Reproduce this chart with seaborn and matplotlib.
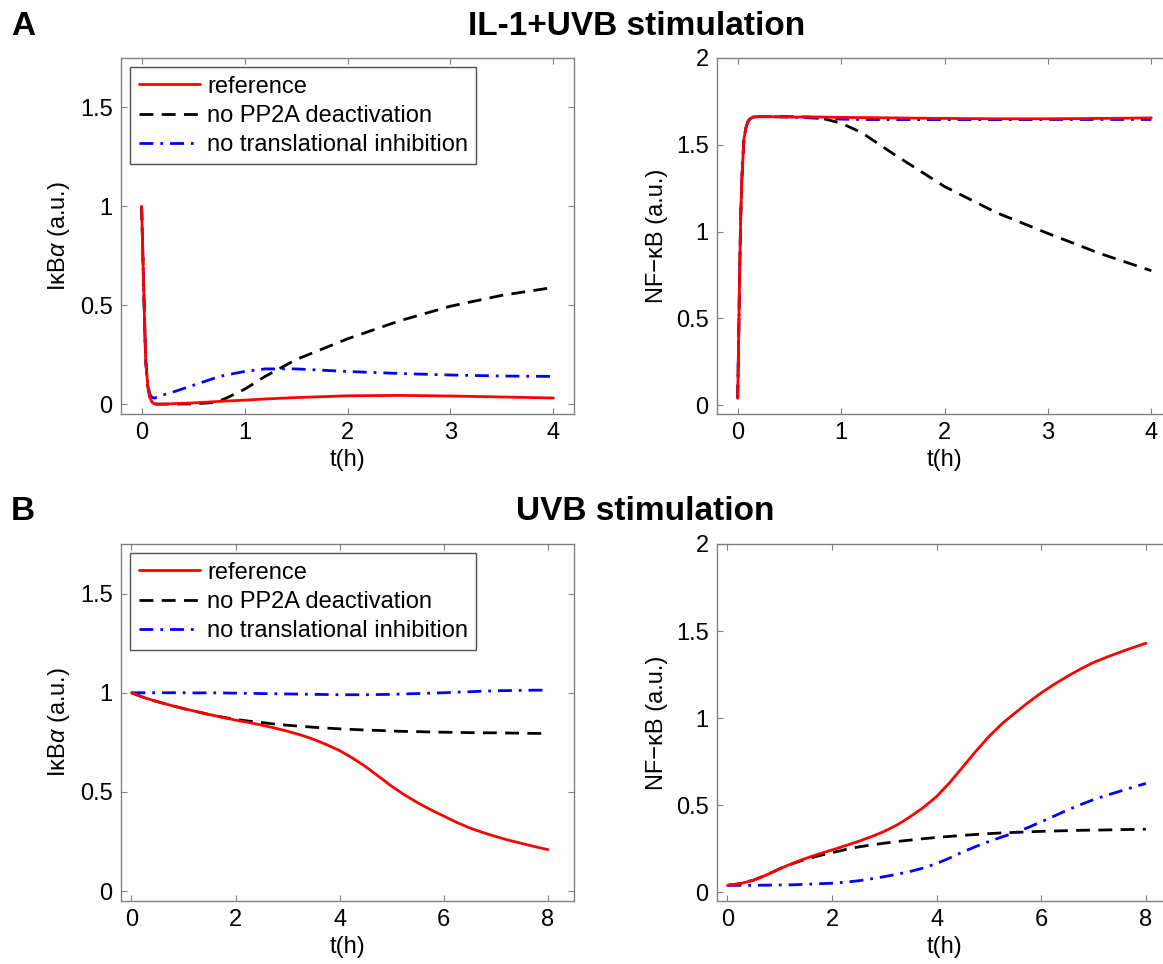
import matplotlib
matplotlib.use("Agg")
import matplotlib.pyplot as plt
import seaborn as sns

sns.set_style("white")
plt.rcParams['font.family'] = ['Liberation Sans', 'DejaVu Sans']
plt.rcParams['mathtext.fontset'] = 'custom'
plt.rcParams['mathtext.it'] = 'Liberation Sans:italic'
plt.rcParams['mathtext.rm'] = 'Liberation Sans'
plt.rcParams['text.color'] = 'black'
plt.rcParams['axes.labelcolor'] = 'black'

# ---- data ----
# panel A: IL-1+UVB stimulation, t in hours
t_a = [0, 0.01, 0.02, 0.03, 0.04, 0.06, 0.08, 0.1, 0.12, 0.15, 0.2, 0.3, 0.5,
       0.7, 0.8, 1.0, 1.2, 1.5, 2.0, 2.5, 3.0, 3.5, 4.0]
ikb_a_ref = [1, 0.8, 0.6, 0.4, 0.22, 0.09, 0.035, 0.01, 0.002, 0.0, 0.0, 0.002, 0.006,
             0.012, 0.015, 0.02, 0.026, 0.033, 0.042, 0.044, 0.041, 0.036, 0.031]
ikb_a_pp2a = [1, 0.8, 0.6, 0.4, 0.22, 0.09, 0.035, 0.01, 0.002, 0.0, 0.0, 0.0, 0.001,
              0.008, 0.025, 0.075, 0.14, 0.225, 0.33, 0.42, 0.495, 0.55, 0.59]
ikb_a_transl = [1, 0.8, 0.6, 0.4, 0.22, 0.1, 0.05, 0.035, 0.03, 0.035, 0.045, 0.06, 0.095,
                0.13, 0.145, 0.165, 0.178, 0.178, 0.165, 0.155, 0.147, 0.142, 0.14]
nfkb_a_ref = [0.04, 0.4, 0.8, 1.1, 1.3, 1.53, 1.6, 1.635, 1.65, 1.66, 1.662, 1.662, 1.66,
              1.66, 1.66, 1.658, 1.657, 1.655, 1.652, 1.65, 1.65, 1.652, 1.655]
nfkb_a_pp2a = [0.04, 0.4, 0.8, 1.1, 1.3, 1.53, 1.6, 1.635, 1.65, 1.66, 1.662, 1.662, 1.662,
               1.66, 1.655, 1.625, 1.57, 1.45, 1.26, 1.11, 0.99, 0.875, 0.775]
nfkb_a_transl = [0.04, 0.4, 0.8, 1.1, 1.3, 1.53, 1.6, 1.635, 1.65, 1.66, 1.662, 1.662, 1.66,
                 1.655, 1.652, 1.648, 1.646, 1.645, 1.645, 1.645, 1.646, 1.646, 1.646]

# panel B: UVB stimulation
t_b = [0, 0.25, 0.5, 0.75, 1, 1.25, 1.5, 1.75, 2, 2.25, 2.5, 2.75, 3, 3.25, 3.5, 3.75,
       4, 4.25, 4.5, 4.75, 5, 5.25, 5.5, 5.75, 6, 6.25, 6.5, 6.75, 7, 7.25, 7.5, 7.75, 8]
ikb_b_ref = [1.0, 0.975, 0.955, 0.937, 0.92, 0.905, 0.89, 0.876, 0.862, 0.85, 0.837,
             0.822, 0.806, 0.787, 0.765, 0.738, 0.708, 0.67, 0.627, 0.578, 0.528, 0.484,
             0.445, 0.41, 0.378, 0.346, 0.318, 0.295, 0.275, 0.256, 0.24, 0.224, 0.209]
ikb_b_pp2a = [1.0, 0.975, 0.955, 0.937, 0.92, 0.905, 0.89, 0.877, 0.866, 0.857, 0.85,
              0.842, 0.836, 0.831, 0.826, 0.822, 0.818, 0.815, 0.812, 0.81, 0.807, 0.805,
              0.804, 0.802, 0.801, 0.8, 0.799, 0.798, 0.798, 0.797, 0.796, 0.795, 0.795]
ikb_b_transl = [1.0, 1.0, 1.0, 1.0, 1.0, 0.999, 1.0, 0.999, 0.998, 0.997, 0.996, 0.995,
                0.994, 0.993, 0.992, 0.991, 0.99, 0.99, 0.99, 0.991, 0.992, 0.994, 0.996,
                0.998, 1.0, 1.003, 1.005, 1.008, 1.01, 1.011, 1.012, 1.013, 1.013]
nfkb_b_ref = [0.04, 0.05, 0.07, 0.1, 0.135, 0.167, 0.195, 0.22, 0.243, 0.267, 0.292,
              0.319, 0.35, 0.388, 0.435, 0.488, 0.55, 0.63, 0.72, 0.81, 0.895, 0.968,
              1.03, 1.09, 1.145, 1.195, 1.24, 1.282, 1.32, 1.35, 1.378, 1.405, 1.43]
nfkb_b_pp2a = [0.04, 0.05, 0.07, 0.1, 0.135, 0.165, 0.19, 0.21, 0.228, 0.245, 0.26,
               0.272, 0.282, 0.292, 0.3, 0.308, 0.315, 0.321, 0.327, 0.332, 0.337, 0.341,
               0.344, 0.347, 0.35, 0.352, 0.354, 0.356, 0.357, 0.358, 0.36, 0.361, 0.362]
nfkb_b_transl = [0.04, 0.04, 0.04, 0.041, 0.042, 0.043, 0.046, 0.049, 0.052, 0.058, 0.066,
                 0.077, 0.09, 0.104, 0.12, 0.14, 0.165, 0.197, 0.232, 0.263, 0.292, 0.318,
                 0.342, 0.372, 0.405, 0.438, 0.472, 0.503, 0.532, 0.557, 0.58, 0.603, 0.625]

series_names = ["reference", "no PP2A deactivation", "no translational inhibition"]
colors = ["#ff0000", "#000000", "#0000ff"]
styles = ["-", (0, (5, 3)), (0, (5, 2.5, 1, 2.5))]

ikb_label = "IκB" + r"$\it{\alpha}$" + " (a.u.)"
nfkb_label = "NF\u2212κB (a.u.)"

FS = 17
fig = plt.figure(figsize=(11.63, 9.64), dpi=100)
W, H = 1163, 964


def make_ax(left, top, right, bottom):
    return fig.add_axes([left / W, 1 - bottom / H, (right - left) / W, (bottom - top) / H])


panels = [
    (make_ax(121, 58, 574, 414), t_a, [ikb_a_ref, ikb_a_pp2a, ikb_a_transl],
     (-0.2, 4.2), [0, 1, 2, 3, 4], (-0.05, 1.75), [0, 0.5, 1, 1.5], ikb_label, True),
    (make_ax(717, 58, 1172, 414), t_a, [nfkb_a_ref, nfkb_a_pp2a, nfkb_a_transl],
     (-0.2, 4.2), [0, 1, 2, 3, 4], (-0.05, 2), [0, 0.5, 1, 1.5, 2], nfkb_label, False),
    (make_ax(121, 544, 574, 901), t_b, [ikb_b_ref, ikb_b_pp2a, ikb_b_transl],
     (-0.2, 8.5), [0, 2, 4, 6, 8], (-0.05, 1.75), [0, 0.5, 1, 1.5], ikb_label, True),
    (make_ax(717, 544, 1172, 901), t_b, [nfkb_b_ref, nfkb_b_pp2a, nfkb_b_transl],
     (-0.2, 8.5), [0, 2, 4, 6, 8], (-0.05, 2), [0, 0.5, 1, 1.5, 2], nfkb_label, False),
]

for ax, t, ys, xlim, xt, ylim, yt, ylab, show_leg in panels:
    # black first, then blue, red drawn on top
    for i in [1, 2, 0]:
        sns.lineplot(x=t, y=ys[i], ax=ax, color=colors[i], linestyle=styles[i],
                     linewidth=2.0, label=series_names[i], sort=False, estimator=None)
    ax.set_xlim(*xlim)
    ax.set_ylim(*ylim)
    ax.set_xticks(xt)
    ax.set_xticklabels([f"{v:g}" for v in xt])
    ax.set_yticks(yt)
    ax.set_yticklabels([f"{v:g}" for v in yt])
    ax.tick_params(direction="in", length=4, width=0.8, color="#808080",
                   labelcolor="black", labelsize=FS, pad=6, top=True, right=True,
                   bottom=True, left=True)
    for sp in ax.spines.values():
        sp.set_color("#808080")
        sp.set_linewidth(1.0)
    ax.set_xlabel("t(h)", fontsize=FS)
    ax.set_ylabel(ylab, fontsize=FS)
    ax.xaxis.set_label_coords(0.5, -0.098)
    ax.yaxis.set_label_coords(-0.108, 0.5)
    leg = ax.get_legend()
    if leg is not None:
        leg.remove()
    if show_leg:
        handles, labels = ax.get_legend_handles_labels()
        order = [labels.index(n) for n in series_names]
        lg = ax.legend([handles[k] for k in order], [labels[k] for k in order],
                       loc="upper left", fontsize=FS, frameon=True, fancybox=False,
                       framealpha=1, edgecolor="#505050", handlelength=2.6,
                       handletextpad=0.3, borderpad=0.35, labelspacing=0.3,
                       borderaxespad=0.4)
        lg.get_frame().set_linewidth(1.0)

fig.text(11 / W, 1 - 35 / H, "A", fontsize=24, fontweight="bold", ha="left", va="baseline")
fig.text(637 / W, 1 - 35 / H, "IL-1+UVB stimulation", fontsize=24, fontweight="bold",
         ha="center", va="baseline")
fig.text(11 / W, 1 - 520 / H, "B", fontsize=24, fontweight="bold", ha="left", va="baseline")
fig.text(645 / W, 1 - 520 / H, "UVB stimulation", fontsize=24, fontweight="bold",
         ha="center", va="baseline")

fig.savefig("out.png", dpi=100)
